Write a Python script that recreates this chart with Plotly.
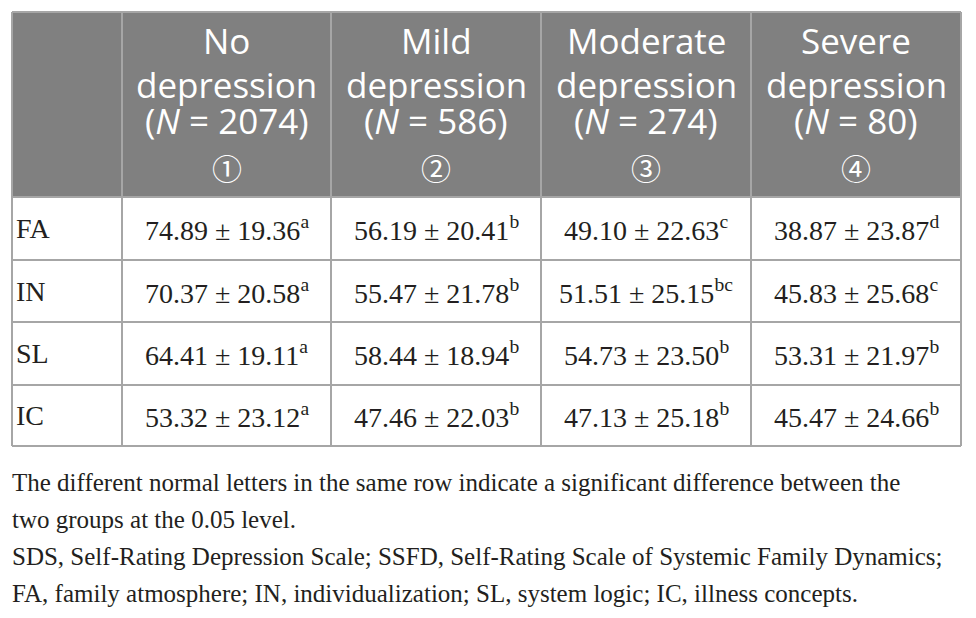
import plotly.graph_objects as go

# table content
groups = [["No", "depression"], ["Mild", "depression"], ["Moderate", "depression"], ["Severe", "depression"]]
group_n = [2074, 586, 274, 80]
group_marks = ["①", "②", "③", "④"]
dimensions = ["FA", "IN", "SL", "IC"]
means = [
    [74.89, 56.19, 49.10, 38.87],
    [70.37, 55.47, 51.51, 45.83],
    [64.41, 58.44, 54.73, 53.31],
    [53.32, 47.46, 47.13, 45.47],
]
sds = [
    [19.36, 20.41, 22.63, 23.87],
    [20.58, 21.78, 25.15, 25.68],
    [19.11, 18.94, 23.50, 21.97],
    [23.12, 22.03, 25.18, 24.66],
]
letters = [
    ["a", "b", "c", "d"],
    ["a", "b", "bc", "c"],
    ["a", "b", "b", "b"],
    ["a", "b", "b", "b"],
]
footnote = [
    "The different normal letters in the same row indicate a significant difference between the",
    "two groups at the 0.05 level.",
    "SDS, Self-Rating Depression Scale; SSFD, Self-Rating Scale of Systemic Family Dynamics;",
    "FA, family atmosphere; IN, individualization; SL, system logic; IC, illness concepts.",
]

# grid (pixel-like units on the axes)
col_edges = [12, 122, 331, 541, 751, 961]
row_edges = [12, 197, 260, 322, 385, 446]
head_line_y = [40, 84, 120, 167]
HEAD_BG = "#808080"
LINE = "#a6a6a6"
INK = "#231f20"
SERIF = "Liberation Serif"
SANS = "Open Sans"
PAGE_PAD = 8  # browser body margin

fig = go.Figure()
shapes = []
annots = []

# header background
shapes.append(dict(type="rect", xref="x", yref="y", x0=col_edges[0], x1=col_edges[-1],
                   y0=row_edges[0], y1=row_edges[1], fillcolor=HEAD_BG, line=dict(width=0), layer="below"))

# grid lines
for x in col_edges:
    shapes.append(dict(type="line", xref="x", yref="y", x0=x, x1=x, y0=row_edges[0], y1=row_edges[-1],
                       line=dict(color=LINE, width=2)))
for y in row_edges:
    shapes.append(dict(type="line", xref="x", yref="y", x0=col_edges[0], x1=col_edges[-1], y0=y, y1=y,
                       line=dict(color=LINE, width=2)))

# header text, one annotation per line to get the tight line spacing
for j, g in enumerate(groups):
    xc = (col_edges[j + 1] + col_edges[j + 2]) / 2
    lines = g + ["(<i>N</i> = " + str(group_n[j]) + ")"]
    for k, t in enumerate(lines):
        annots.append(dict(x=xc, y=head_line_y[k], xref="x", yref="y", text=t, showarrow=False,
                           font=dict(family=SANS, size=35, color="white")))
    annots.append(dict(x=xc, y=head_line_y[3], xref="x", yref="y", text=group_marks[j], showarrow=False,
                       font=dict(family="Noto Sans CJK JP", size=30, color="white")))

# body
for i, d in enumerate(dimensions):
    yc = (row_edges[i + 1] + row_edges[i + 2]) / 2
    annots.append(dict(x=col_edges[0] + 2, y=yc, xref="x", yref="y", text=d, showarrow=False,
                       xanchor="left", font=dict(family=SERIF, size=28, color=INK)))
    for j in range(len(groups)):
        xc = (col_edges[j + 1] + col_edges[j + 2]) / 2
        txt = "%.2f ± %.2f<sup>%s</sup>" % (means[i][j], sds[i][j], letters[i][j])
        annots.append(dict(x=xc, y=yc, xref="x", yref="y", text=txt, showarrow=False,
                           font=dict(family=SERIF, size=28, color=INK)))

# footnote
for k, line in enumerate(footnote):
    annots.append(dict(x=col_edges[0] - 2, y=482 + 37 * k, xref="x", yref="y", text=line, showarrow=False,
                       xanchor="left", font=dict(family=SERIF, size=25, color=INK)))

fig.update_layout(
    width=976,
    height=618,
    margin=dict(l=0, r=0, t=0, b=0),
    paper_bgcolor="white",
    plot_bgcolor="white",
    xaxis=dict(range=[PAGE_PAD, 976 + PAGE_PAD], visible=False, fixedrange=True),
    yaxis=dict(range=[618 + PAGE_PAD, PAGE_PAD], visible=False, fixedrange=True),
    shapes=shapes,
    annotations=annots,
    showlegend=False,
)

fig.write_html("out.html")
